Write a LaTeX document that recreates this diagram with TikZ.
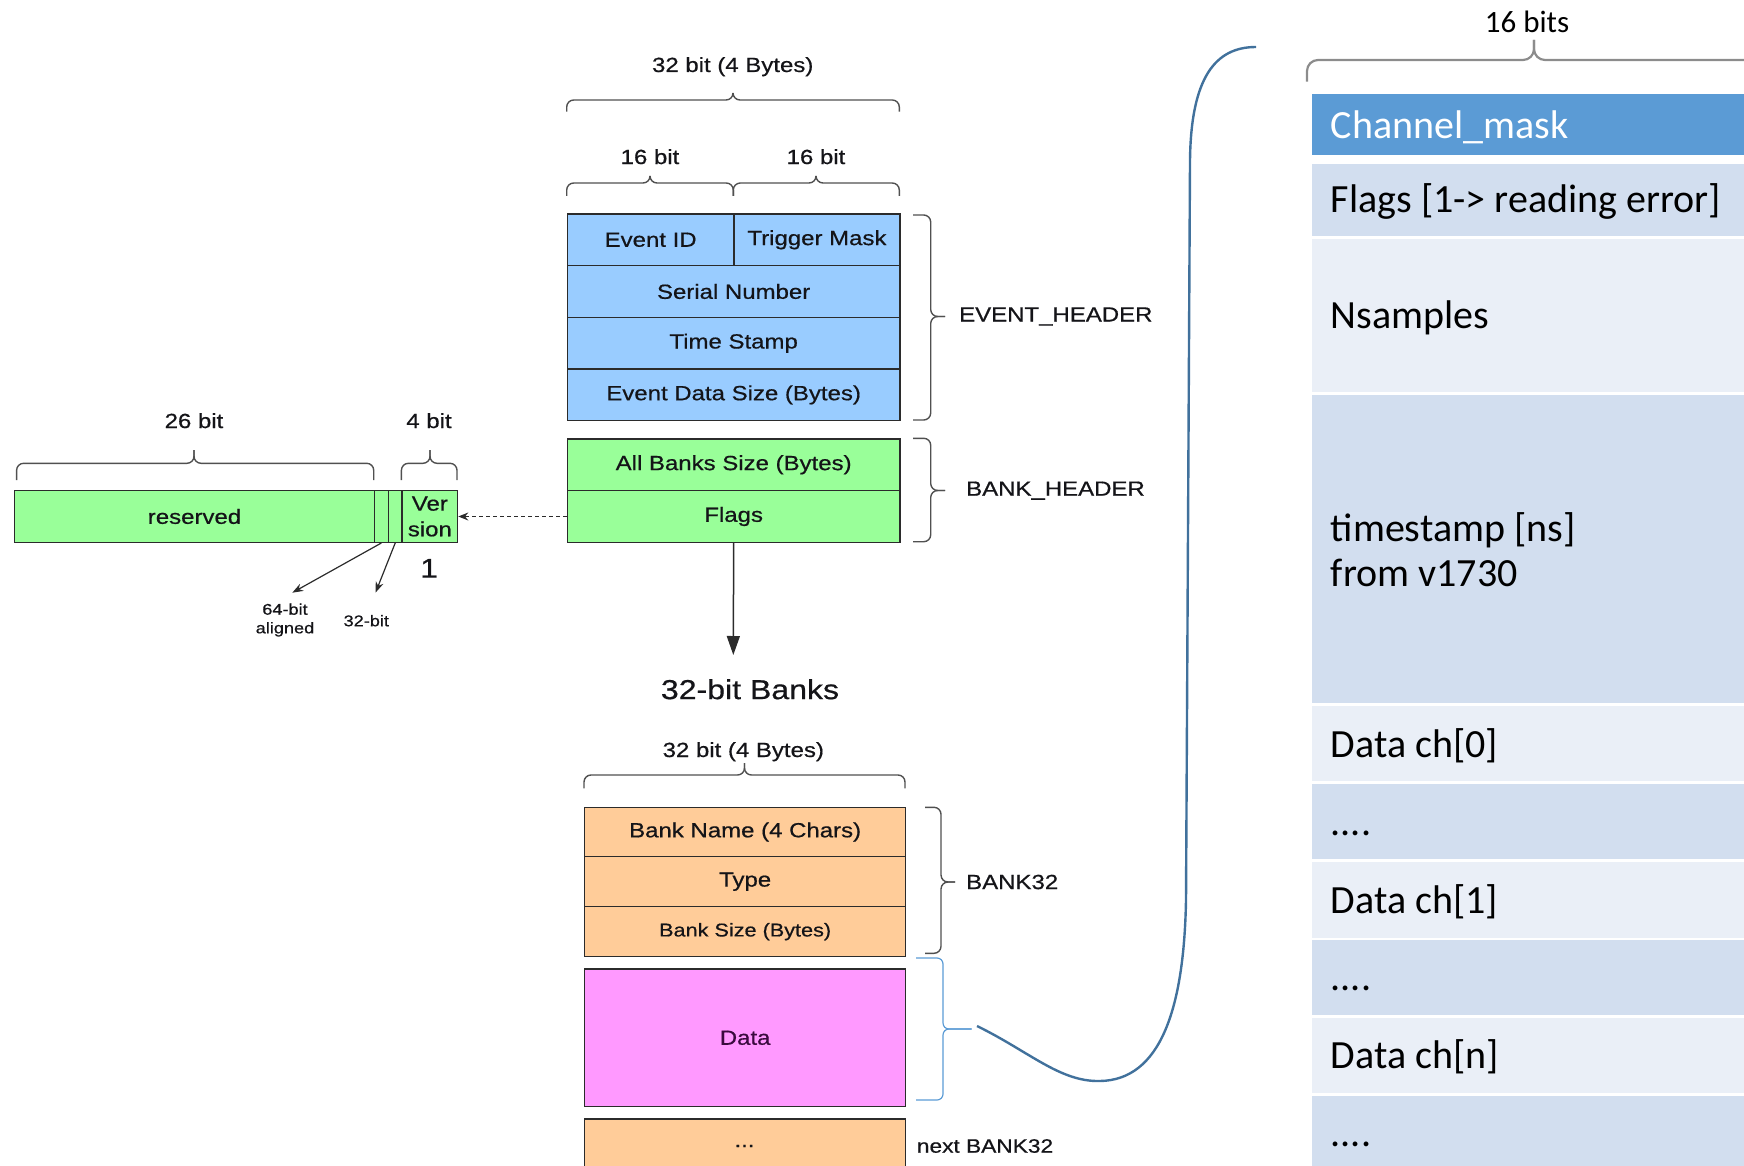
\documentclass[tikz,border=0pt]{standalone}
\usepackage{fontspec}
\usetikzlibrary{arrows.meta}
\newfontfamily\hv[FakeStretch=1.17,FakeBold=0.6]{Liberation Sans}
\newfontfamily\cb{Carlito}

\definecolor{cBlue}{HTML}{99CCFF}
\definecolor{cGreen}{HTML}{99FF99}
\definecolor{cOrange}{HTML}{FFCC99}
\definecolor{cPink}{HTML}{FF99FF}
\definecolor{edge}{HTML}{2B2B2B}
\definecolor{brc}{HTML}{505050}
\definecolor{txt}{HTML}{141418}
\definecolor{dataTxt}{HTML}{3A0A3E}
\definecolor{hdrBlue}{HTML}{5B9BD5}
\definecolor{bandDark}{HTML}{D2DEEF}
\definecolor{bandLight}{HTML}{EAEFF7}
\definecolor{curveBlue}{HTML}{41719C}
\definecolor{braceBlue}{HTML}{5B9BD5}
\definecolor{braceGray}{HTML}{8C8C8C}

\newcommand\lbl{\hv\fontsize{20.5}{24}\selectfont}
\newcommand\rowfont{\cb\fontsize{40}{46}\selectfont}

% curly brace opening upwards: xl xr xm yend yline ypeak
\newcommand\HBrace[7][]{%
  \draw[brace,#1] (#2,#5) |- (#4,#6) -- (#4,#7);
  \draw[brace,#1] (#3,#5) |- (#4,#6) -- (#4,#7);}
% curly brace opening to the right: yt yb ym xend xline xtip
\newcommand\VBrace[7][]{%
  \draw[brace,#1] (#5,#2) -| (#6,#4) -- (#7,#4);
  \draw[brace,#1] (#5,#3) -| (#6,#4) -- (#7,#4);}

\begin{document}
\begin{tikzpicture}[x=1pt,y=-1pt,
  cell/.style={draw=edge, line width=1.3pt, inner sep=0pt, anchor=north west,
               text=txt, font=\lbl},
  brace/.style={draw=brc, line width=1.4pt, rounded corners=7pt},
  note/.style={text=txt, font=\lbl, inner sep=0pt},
  band/.style={anchor=north west, inner sep=0pt, minimum width=440pt},
  rowtxt/.style={anchor=base west, inner sep=0pt, font=\rowfont, text=black},
  curve/.style={draw=curveBlue, line width=2.4pt}]

\useasboundingbox (0,0) rectangle (1744,1166);
\clip (0,0) rectangle (1744,1166);

% ---------------- EVENT_HEADER ----------------
\node[cell, fill=cBlue, minimum width=166.6pt, minimum height=51.7pt] (evid) at (566.7,213.3) {Event ID};
\node[cell, fill=cBlue, minimum width=166pt, minimum height=51.7pt] (trig) at (733.3,213.3) {Trigger Mask};
\node[cell, fill=cBlue, minimum width=332.6pt, minimum height=51.7pt] (serial) at (566.7,265) {Serial Number};
\node[cell, fill=cBlue, minimum width=332.6pt, minimum height=51.7pt] (tstampL) at (566.7,316.7) {Time Stamp};
\node[cell, fill=cBlue, minimum width=332.6pt, minimum height=51.7pt] (evsize) at (566.7,368.4) {Event Data Size (Bytes)};

% ---------------- BANK_HEADER ----------------
\node[cell, fill=cGreen, minimum width=332.6pt, minimum height=51.7pt] (allbanks) at (566.7,438.3) {All Banks Size (Bytes)};
\node[cell, fill=cGreen, minimum width=332.6pt, minimum height=51.7pt] (flags) at (566.7,490) {Flags};

% ---------------- flags word ----------------
\node[cell, fill=cGreen, minimum width=359.7pt, minimum height=51.7pt] (reserved) at (14,490) {reserved};
\node[cell, fill=cGreen, minimum width=14pt, minimum height=51.7pt] (bitA) at (373.7,490) {};
\node[cell, fill=cGreen, minimum width=13.7pt, minimum height=51.7pt] (bitB) at (387.7,490) {};
\node[cell, fill=cGreen, minimum width=55.6pt, minimum height=51.7pt, align=center,
      font=\hv\fontsize{20.5}{25.7}\selectfont] (ver) at (401.4,490) {Ver\\sion};

% ---------------- BANK32 ----------------
\node[cell, fill=cOrange, minimum width=321pt, minimum height=49.3pt] (bname) at (584,806.7) {Bank Name (4 Chars)};
\node[cell, fill=cOrange, minimum width=321pt, minimum height=50pt] (btype) at (584,856) {Type};
\node[cell, fill=cOrange, minimum width=321pt, minimum height=50pt,
      font=\hv\fontsize{18.5}{22}\selectfont] (bsize) at (584,906) {Bank Size (Bytes)};
\node[cell, fill=cPink, minimum width=321pt, minimum height=137.7pt, text=dataTxt] (bdata) at (584,968.3) {Data};
\node[cell, fill=cOrange, minimum width=321pt, minimum height=80pt] (bnext) at (584,1118.3) {};
\node[note] (bdots) at (744.5,1146) {...};

% ---------------- braces and their labels ----------------
\HBrace{566.7}{899.3}{733}{111.7}{100}{93}
\node[note] (w32a) at (732.7,66.7) {32 bit (4 Bytes)};
\HBrace{566.7}{733.3}{650}{196}{183}{176.7}
\HBrace{733.3}{899.3}{816}{196}{183}{176.7}
\node[note] (w16a) at (650,156.7) {16 bit};
\node[note] (w16b) at (816,156.7) {16 bit};

\VBrace{215}{420}{316.5}{913}{930.7}{945}
\node[note, anchor=west] (lev) at (959,316.5) {EVENT\_HEADER};
\VBrace{438.3}{541.7}{490.5}{913}{930.7}{945}
\node[note, anchor=west] (lbh) at (966,490.7) {BANK\_HEADER};

\HBrace{16.6}{373.7}{194}{480}{463.3}{450}
\node[note] (w26) at (194,420.7) {26 bit};
\HBrace{401.4}{457}{430}{480}{463.3}{450}
\node[note] (w4) at (429,420.7) {4 bit};
\node[note, font=\hv\fontsize{27}{30}\selectfont] (vone) at (429,568.3) {1};

\HBrace{584}{905}{744.5}{788.3}{775}{763}
\node[note] (w32b) at (743.3,751.7) {32 bit (4 Bytes)};
\VBrace{807.3}{953.3}{882}{925}{941}{955}
\node[note, anchor=west] (lb32) at (966,882) {BANK32};
\node[note, anchor=west, font=\hv\fontsize{19.4}{23}\selectfont] (lnext) at (916.7,1146) {next BANK32};

% blue brace around the data block
\VBrace[draw=braceBlue, line width=1.2pt, rounded corners=6pt]{958}{1100}{1029}{916}{943}{971.7}

% ---------------- arrows ----------------
\node[note, font=\hv\fontsize{27.4}{30}\selectfont] (banks) at (750,689.3) {32-bit Banks};
\coordinate (arrEnd) at (733.3,655);
\draw[draw=edge, line width=1.5pt, -{Triangle[length=19pt,width=13pt]}] (flags.south) -- (arrEnd);

\draw[draw=edge, line width=1.1pt, dash pattern=on 4pt off 3pt,
      -{Stealth[length=10pt,width=8pt]}] (flags.west) -- (ver.east);

\node[note, align=center, font=\hv\fontsize{15.5}{18.6}\selectfont] (l64) at (285,620) {64-bit\\aligned};
\node[note, font=\hv\fontsize{15.5}{18.6}\selectfont] (l32) at (366.3,620.7) {32-bit};
\coordinate (p64) at (292.3,592.7);
\coordinate (p32) at (375.5,592.7);
\draw[draw=edge, line width=1.2pt, -{Stealth[length=11pt,width=8pt]}] (bitA.south) -- (p64);
\draw[draw=edge, line width=1.2pt, -{Stealth[length=11pt,width=8pt]}] (bitB.south) -- (p32);

% ---------------- data word layout ----------------
\node[band, fill=hdrBlue, minimum height=61.3pt] (rmask) at (1312,94) {};
\node[band, fill=bandDark, minimum height=72pt] (rflags) at (1312,164) {};
\node[band, fill=bandLight, minimum height=152.4pt] (rns) at (1312,239.3) {};
\node[band, fill=bandDark, minimum height=307.7pt] (rts) at (1312,395) {};
\node[band, fill=bandLight, minimum height=74.7pt] (rd0) at (1312,706) {};
\node[band, fill=bandDark, minimum height=75pt] (rdots1) at (1312,784) {};
\node[band, fill=bandLight, minimum height=75.6pt] (rd1) at (1312,861.7) {};
\node[band, fill=bandDark, minimum height=75pt] (rdots2) at (1312,940) {};
\node[band, fill=bandLight, minimum height=75pt] (rdn) at (1312,1017.7) {};
\node[band, fill=bandDark, minimum height=80pt] (rdots3) at (1312,1095.3) {};

\node[rowtxt, text=white] (tmask) at (1330.6,139) {Channel\_mask};
\node[rowtxt] (tflags) at (1330.6,212.7) {Flags [1-> reading error]};
\node[rowtxt] (tns) at (1330.6,328.3) {Nsamples};
\node[rowtxt] (tts1) at (1330.6,541.7) {timestamp [ns]};
\node[rowtxt] (tts2) at (1330.6,586.7) {from v1730};
\node[rowtxt] (td0) at (1330.6,757.3) {Data ch[0]};
\node[rowtxt] (tdots1) at (1330.6,835) {....};
\node[rowtxt] (td1) at (1330.6,913.3) {Data ch[1]};
\node[rowtxt] (tdots2) at (1330.6,990) {....};
\node[rowtxt] (tdn) at (1330.6,1068.3) {Data ch[n]};
\node[rowtxt] (tdots3) at (1330.6,1146.7) {....};

\HBrace[draw=braceGray, line width=2.2pt, rounded corners=11pt]{1307}{1761}{1534}{81.7}{60}{40}
\node[inner sep=0pt, font=\cb\fontsize{31}{36}\selectfont] (w16c) at (1527,21.7) {16 bits};

% ---------------- link from the data block to its layout ----------------
\coordinate (cs) at (977,1026);
\coordinate (ce) at (1256,47);
\draw[curve] (cs) .. controls (1030,1052) and (1060,1082) .. (1100,1081)
  .. controls (1160,1080) and (1184,1010) .. (1186,900) -- (1190,160)
  .. controls (1191,78) and (1215,47) .. (ce);

\end{tikzpicture}
\end{document}
